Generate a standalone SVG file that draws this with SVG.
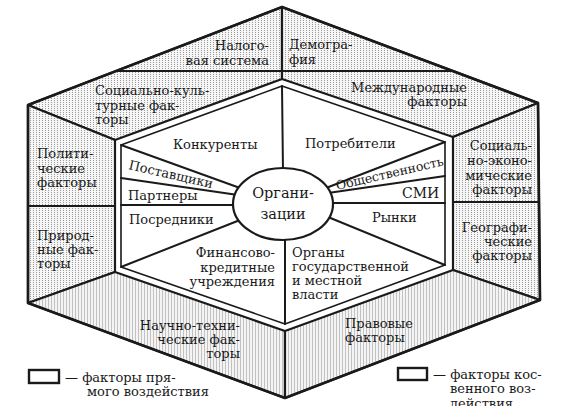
<svg xmlns="http://www.w3.org/2000/svg" width="561" height="406" viewBox="0 0 561 406">
<defs>
<pattern id="dots" width="3" height="2" patternUnits="userSpaceOnUse">
<rect width="3" height="2" fill="#f6f6f6"/>
<rect x="0" y="0" width="1" height="1" fill="#9a9a9a"/>
</pattern>
<pattern id="stripes" width="3" height="2" patternUnits="userSpaceOnUse">
<rect width="3" height="2" fill="#f4f4f4"/>
<rect x="0" y="0" width="1" height="2" fill="#c2c2c2"/>
</pattern>
</defs>
<style>
.panel{stroke:#1a1a1a;stroke-width:2.2;stroke-linejoin:round}
.ln{stroke:#1a1a1a;stroke-width:2;fill:none;stroke-linecap:round}
.thin{stroke:#1a1a1a;stroke-width:1.6;fill:none;stroke-linejoin:round}
text{font-family:"DejaVu Serif","Liberation Serif",serif;font-size:13px;fill:#1a1a1a}
.r{text-anchor:end}
.m{text-anchor:middle}
</style>
<rect width="561" height="406" fill="#ffffff"/>

<g id="outer-ring">
<g id="nalog"><polygon class="panel" fill="url(#dots)" points="282,7 282,71 116,71"/>
<text class="r" x="269" y="50">Налого-</text><text class="r" x="269" y="65">вая система</text></g>
<g id="demogr"><polygon class="panel" fill="url(#dots)" points="282,7 453,71 282,71"/>
<text x="289" y="49">Демогра-</text><text x="289" y="64">фия</text></g>
<g id="soc-kult"><polygon class="panel" fill="url(#dots)" points="116,71 282,71 282,79 115,140 28,105"/>
<text x="95" y="95">Социально-куль-</text><text x="95" y="110">турные фак-</text><text x="95" y="124">торы</text></g>
<g id="mezhdun"><polygon class="panel" fill="url(#dots)" points="282,71 453,71 538,103 453,137 282,79"/>
<text class="r" x="467" y="92">Международные</text><text class="r" x="467" y="106">факторы</text></g>
<g id="polit"><polygon class="panel" fill="url(#dots)" points="28,105 115,140 115,206 28,206"/>
<text x="37" y="158">Полити-</text><text x="37" y="173">ческие</text><text x="37" y="187">факторы</text></g>
<g id="prirod"><polygon class="panel" fill="url(#dots)" points="28,206 115,206 115,272 28,303"/>
<text x="37" y="240">Природ-</text><text x="37" y="254">ные фак-</text><text x="37" y="268">торы</text></g>
<g id="soc-ekon"><polygon class="panel" fill="url(#dots)" points="538,103 539,202 453,202 453,137"/>
<text class="r" x="532" y="150">Социаль-</text><text class="r" x="532" y="165">но-эконо-</text><text class="r" x="532" y="180">мические</text><text class="r" x="532" y="194">факторы</text></g>
<g id="geogr"><polygon class="panel" fill="url(#dots)" points="453,202 539,202 540,300 453,270"/>
<text class="r" x="532" y="232">Географи-</text><text class="r" x="532" y="246">ческие</text><text class="r" x="532" y="260">факторы</text></g>
<g id="nauchno"><polygon class="panel" fill="url(#stripes)" points="28,303 115,272 285,331 285,398"/>
<text class="r" x="240" y="330">Научно-техни-</text><text class="r" x="240" y="344">ческие фак-</text><text class="r" x="240" y="358">торы</text></g>
<g id="pravov"><polygon class="panel" fill="url(#stripes)" points="285,331 453,270 540,300 285,398"/>
<text x="345" y="328">Правовые</text><text x="345" y="342">факторы</text></g>
</g>

<g id="outline">
<polygon fill="none" stroke="#1a1a1a" stroke-width="2.6" stroke-linejoin="round" points="282,7 538,103 540,300 285,398 28,303 28,105"/>
<polygon class="thin" fill="#ffffff" points="282,86 445,142 445,265 285,324 121,267 121,145"/>
</g>

<g id="connectors">
<line class="ln" x1="282" y1="86" x2="283" y2="172"/>
<line class="ln" x1="285" y1="236" x2="285" y2="324"/>
<line class="ln" x1="121" y1="145" x2="240" y2="188"/>
<line class="ln" x1="121" y1="178" x2="238" y2="195"/>
<line class="ln" x1="121" y1="205" x2="237" y2="205"/>
<line class="ln" x1="240" y1="220" x2="121" y2="267"/>
<line class="ln" x1="445" y1="142" x2="326" y2="188"/>
<line class="ln" x1="445" y1="176" x2="328" y2="193"/>
<line class="ln" x1="445" y1="203" x2="330" y2="203"/>
<line class="ln" x1="328" y1="217" x2="445" y2="265"/>
</g>

<g id="org">
<ellipse cx="283" cy="204" rx="50" ry="36" fill="#ffffff" stroke="#1a1a1a" stroke-width="2.2"/>
<text class="m" x="283" y="198" style="font-size:14.5px">Органи-</text>
<text class="m" x="283" y="219" style="font-size:14.5px">зации</text>
</g>

<g id="direct">
<text x="173" y="149">Конкуренты</text>
<text x="305" y="148">Потребители</text>
<text x="128" y="169" transform="rotate(13 128 169)">Поставщики</text>
<text x="128" y="200">Партнеры</text>
<text x="129" y="224">Посредники</text>
<text class="r" x="275" y="257">Финансово-</text>
<text class="r" x="275" y="272">кредитные</text>
<text class="r" x="275" y="286">учреждения</text>
<text x="292" y="257">Органы</text>
<text x="292" y="271">государственной</text>
<text x="292" y="285">и местной</text>
<text x="292" y="299">власти</text>
<text x="337" y="190" transform="rotate(-13 337 190)" style="font-size:12.5px">Общественность</text>
<text x="402" y="198" style="font-size:14px">СМИ</text>
<text x="372" y="222">Рынки</text>
</g>

<g id="legend">
<rect x="29" y="370" width="30" height="13" fill="#ffffff" stroke="#1a1a1a" stroke-width="2.4"/>
<text x="65" y="382">— факторы пря-</text>
<text x="87" y="396">мого воздействия</text>
<rect x="398" y="368" width="29" height="12" fill="#ffffff" stroke="#1a1a1a" stroke-width="2.4"/>
<text x="433" y="379">— факторы кос-</text>
<text x="450" y="393">венного воз-</text>
<text x="450" y="408">действия</text>
</g>
</svg>
